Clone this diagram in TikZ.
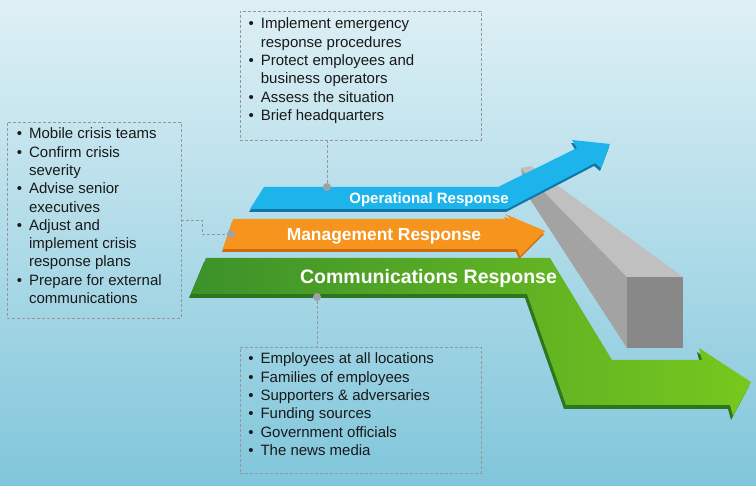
\documentclass[tikz,border=0pt]{standalone}
\usepackage{fontspec}
\setmainfont{Liberation Sans}
\usetikzlibrary{calc}
\definecolor{skytop}{RGB}{222,240,245}
\definecolor{skybot}{RGB}{128,198,219}
\definecolor{opblue}{RGB}{28,180,234}
\definecolor{opdark}{RGB}{18,118,168}
\definecolor{mgorange}{RGB}{247,148,30}
\definecolor{mgdark}{RGB}{205,108,15}
\definecolor{cmdeep}{RGB}{60,145,42}
\definecolor{cmlime}{RGB}{120,200,30}
\definecolor{cmdark}{RGB}{44,118,30}
\definecolor{beamtop}{RGB}{192,192,192}
\definecolor{beamside}{RGB}{163,163,163}
\definecolor{beamfront}{RGB}{136,136,136}
\definecolor{linkgray}{RGB}{150,150,150}
\definecolor{dotgray}{RGB}{160,160,168}

\begin{document}
\begin{tikzpicture}[x=1pt, y=-1pt,
  infobox/.style={draw=linkgray, dash pattern=on 3pt off 2pt, line width=0.9pt,
                  inner sep=0},
  link/.style={draw=linkgray, dash pattern=on 3pt off 2pt, line width=0.9pt},
  dot/.style={circle, fill=dotgray, inner sep=0, minimum size=8pt},
  lbl/.style={anchor=base, text=white, inner sep=0},
  bul/.style={anchor=base west, inner sep=0, text=black!90,
              font={\fontsize{15}{18.3}\selectfont}},
]
\useasboundingbox (0,0) rectangle (756,486);
\fill[top color=skytop, bottom color=skybot] (0,0) rectangle (756,486);

% grey beam behind the arrows
\fill[beamside] (521,168) -- (627,277) -- (627,348) -- (524,190) -- cycle;
\fill[beamtop] (521,168) -- (531,166) -- (683,277) -- (627,277) -- cycle;
\fill[beamfront] (627,277) rectangle (683,348);

% communications arrow
\fill[cmdark, shift={(-2,4)}] (191,294) -- (206,258) -- (550,258) -- (612,360)
  -- (702,360) -- (699,348) -- (751,382) -- (733,416) -- (730,405)
  -- (566,405) -- (527,294) -- cycle;
\path[left color=cmdeep, right color=cmlime] (191,294) -- (206,258) -- (550,258)
  -- (612,360) -- (702,360) -- (699,348) -- (751,382) -- (733,416)
  -- (730,405) -- (566,405) -- (527,294) -- cycle;

% management arrow
\fill[mgdark, shift={(-1,3)}] (223,249) -- (233,219) -- (510,219) -- (505,214)
  -- (545,231) -- (520,256) -- (517,249) -- cycle;
\fill[mgorange] (223,249) -- (233,219) -- (510,219) -- (505,214)
  -- (545,231) -- (520,256) -- (517,249) -- cycle;

% operational arrow
\fill[opdark, shift={(-1,3)}] (250,209) -- (264,187) -- (498,187) -- (577,148)
  -- (572,140) -- (610,144) -- (601,168) -- (595,163) -- (507,209) -- cycle;
\fill[opblue] (250,209) -- (264,187) -- (498,187) -- (577,148)
  -- (572,140) -- (610,144) -- (601,168) -- (595,163) -- (507,209) -- cycle;

\node[lbl, font={\fontsize{15}{18}\selectfont\bfseries}] (oplbl) at (429,204)
  {Operational Response};
\node[lbl, font={\fontsize{17.4}{20}\selectfont\bfseries}] (mglbl) at (384,241)
  {Management Response};
\node[lbl, font={\fontsize{19.5}{22}\selectfont\bfseries}] (cmlbl) at (428.5,284)
  {Communications Response};

% dashed info boxes
\node[infobox, minimum width=241pt, minimum height=129pt] (opbox) at (360.5,75.5) {};
\node[infobox, minimum width=174pt, minimum height=196pt] (mgbox) at (94,220) {};
\node[infobox, minimum width=241pt, minimum height=126pt] (cmbox) at (360.5,410) {};

\node[bul] (optxt) at (248.4,28.9) {\begin{tabular}[t]{@{}l@{\hspace{7pt}}l@{}}
  \textbullet & Implement emergency\\
              & response procedures\\
  \textbullet & Protect employees and\\
              & business operators\\
  \textbullet & Assess the situation\\
  \textbullet & Brief headquarters
\end{tabular}};
\node[bul] (mgtxt) at (16.7,138.9) {\begin{tabular}[t]{@{}l@{\hspace{7pt}}l@{}}
  \textbullet & Mobile crisis teams\\
  \textbullet & Confirm crisis\\
              & severity\\
  \textbullet & Advise senior\\
              & executives\\
  \textbullet & Adjust and\\
              & implement crisis\\
              & response plans\\
  \textbullet & Prepare for external\\
              & communications
\end{tabular}};
\node[bul] (cmtxt) at (248.1,363.9) {\begin{tabular}[t]{@{}l@{\hspace{7pt}}l@{}}
  \textbullet & Employees at all locations\\
  \textbullet & Families of employees\\
  \textbullet & Supporters \& adversaries\\
  \textbullet & Funding sources\\
  \textbullet & Government officials\\
  \textbullet & The news media
\end{tabular}};

% connectors
\node[dot] (opdot) at (327,187) {};
\node[dot] (mgdot) at (231,234) {};
\node[dot] (cmdot) at (317,297) {};
\draw[link] (opbox.south -| opdot) -- (opdot);
\draw[link] (mgbox.east) -- ++(21,0) |- (mgdot);
\draw[link] (cmdot) -- (cmdot |- cmbox.north);
\end{tikzpicture}
\end{document}
